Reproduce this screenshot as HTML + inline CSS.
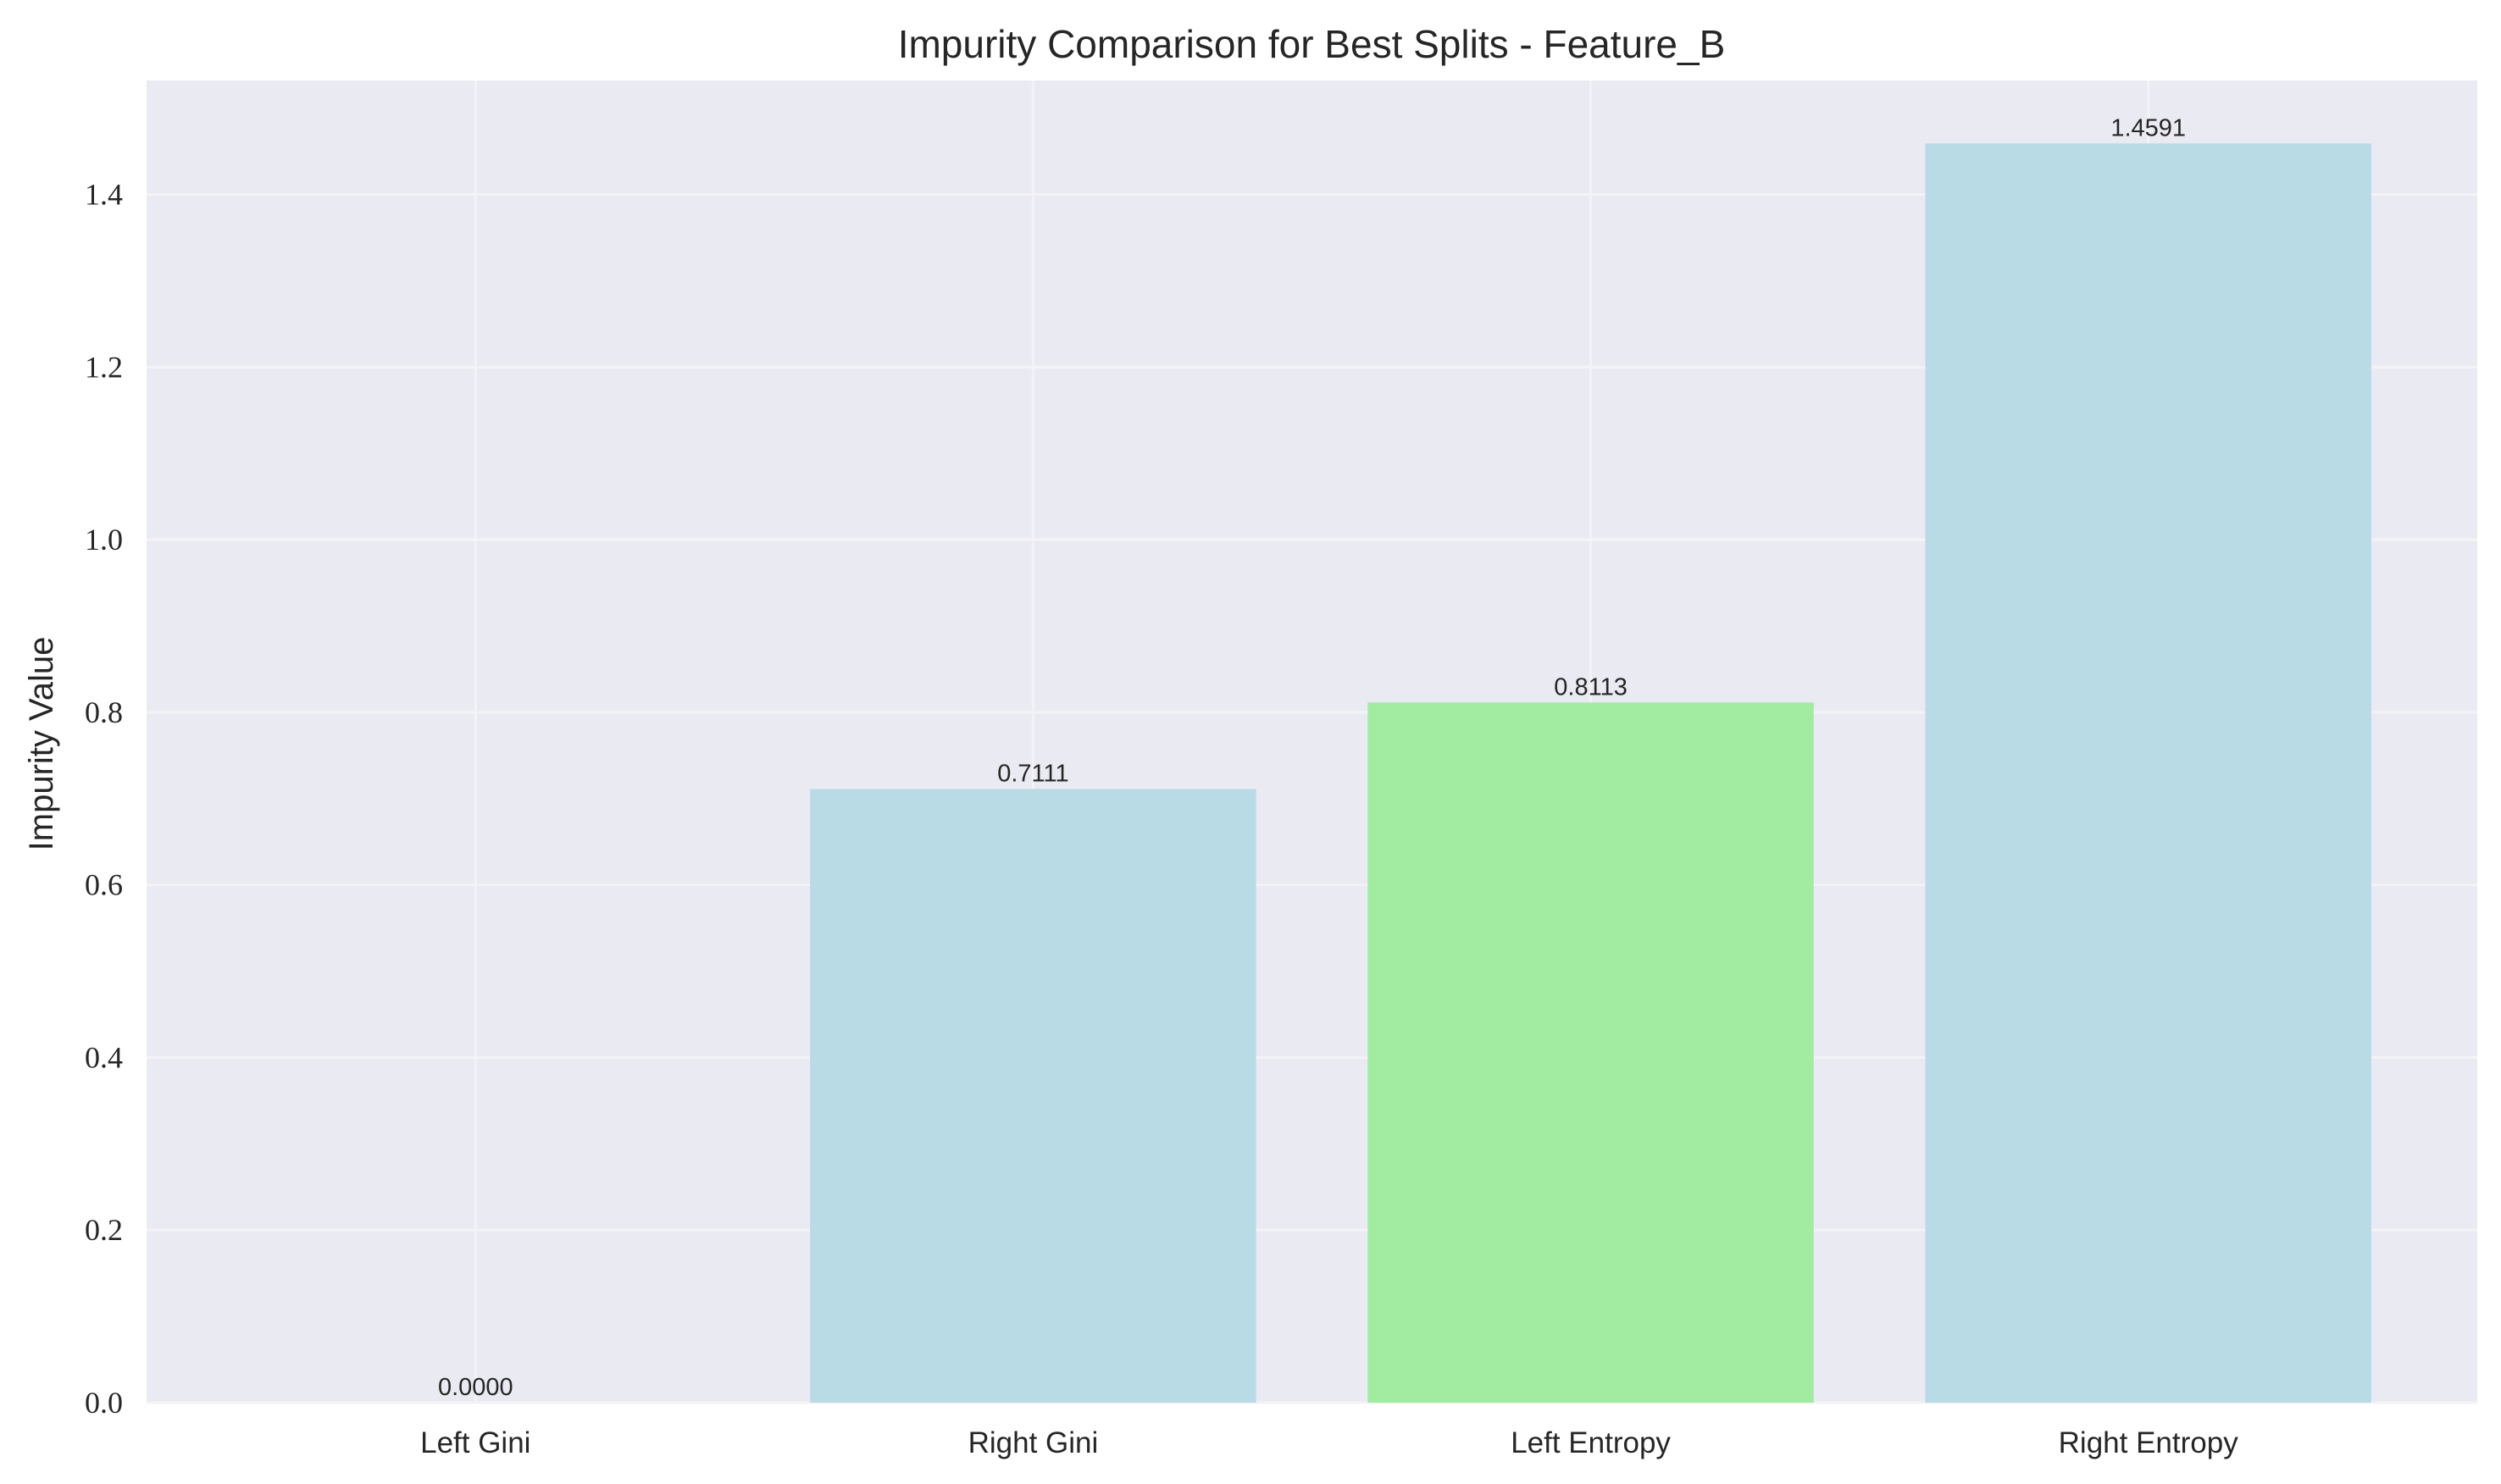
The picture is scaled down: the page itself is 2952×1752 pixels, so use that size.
<!DOCTYPE html>
<html><head><meta charset="utf-8"><style>
html,body{margin:0;padding:0;background:#fff;}
svg{display:block;}
</style></head><body>
<svg id="chart" width="2952" height="1752" xmlns="http://www.w3.org/2000/svg">
<rect x="0" y="0" width="2952" height="1752" fill="#ffffff"/>
<text x="1548" y="68" text-anchor="middle" font-family="Liberation Sans, sans-serif" font-size="46" fill="#262626">Impurity Comparison for Best Splits - Feature_B</text>
<text transform="translate(62,878) rotate(-90)" text-anchor="middle" font-family="Liberation Sans, sans-serif" font-size="40" fill="#262626">Impurity Value</text>
<g id="plot"></g>
</svg>
<script>
const categories = ["Left Gini", "Right Gini", "Left Entropy", "Right Entropy"];
const values = [0.0, 0.7111, 0.8113, 1.4591];
const valueLabels = ["0.0000", "0.7111", "0.8113", "1.4591"];
const barColors = ["#b9dbe6", "#b9dbe6", "#a2eca2", "#b9dbe6"];
const yTicks = [0.0, 0.2, 0.4, 0.6, 0.8, 1.0, 1.2, 1.4];
const yTickLabels = ["0.0", "0.2", "0.4", "0.6", "0.8", "1.0", "1.2", "1.4"];

const NS = "http://www.w3.org/2000/svg";
const L = 173, R = 2924, T = 95, B = 1656;
const yMax = Math.max(...values) * 1.05;
const xMin = -0.59, xMax = categories.length - 1 + 0.59;
const xs = v => L + (v - xMin) / (xMax - xMin) * (R - L);
const ys = v => B - v / yMax * (B - T);
const g = document.getElementById('plot');
function mk(tag, attrs) { const e = document.createElementNS(NS, tag); for (const k in attrs) e.setAttribute(k, attrs[k]); g.appendChild(e); return e; }

let bg = mk('rect', {x: L, y: T, width: R - L, height: B - T, fill: '#eaeaf2'});



yTicks.forEach((t, i) => {
  const y = ys(t);
  const ln = mk('line', {x1: L, x2: R, y1: y, y2: y, stroke: '#f3f3f7', 'stroke-width': 3});
  
  
  const tx = mk('text', {x: L - 28, y: y + 12, 'text-anchor': 'end', 'font-family': 'Liberation Serif, serif', 'font-size': 36, fill: '#262626'});
  tx.textContent = yTickLabels[i];
  
  
});
categories.forEach((c, i) => {
  const x = xs(i);
  const ln = mk('line', {x1: x, x2: x, y1: T, y2: B, stroke: '#f3f3f7', 'stroke-width': 3});
  
  
});
categories.forEach((c, i) => {
  const x0 = xs(i - 0.4), x1 = xs(i + 0.4);
  const y = ys(values[i]);
  const r = mk('rect', {x: x0, y: y, width: x1 - x0, height: B - y, fill: barColors[i]});
  
  
  const vl = mk('text', {x: xs(i), y: y - 9, 'text-anchor': 'middle', 'font-family': 'Liberation Sans, sans-serif', 'font-size': 29, fill: '#262626'});
  vl.textContent = valueLabels[i];
  
  
  const tl = mk('text', {x: xs(i), y: 1715, 'text-anchor': 'middle', 'font-family': 'Liberation Sans, sans-serif', 'font-size': 35, fill: '#262626'});
  tl.textContent = c;
  
  
});
</script>
</body></html>
